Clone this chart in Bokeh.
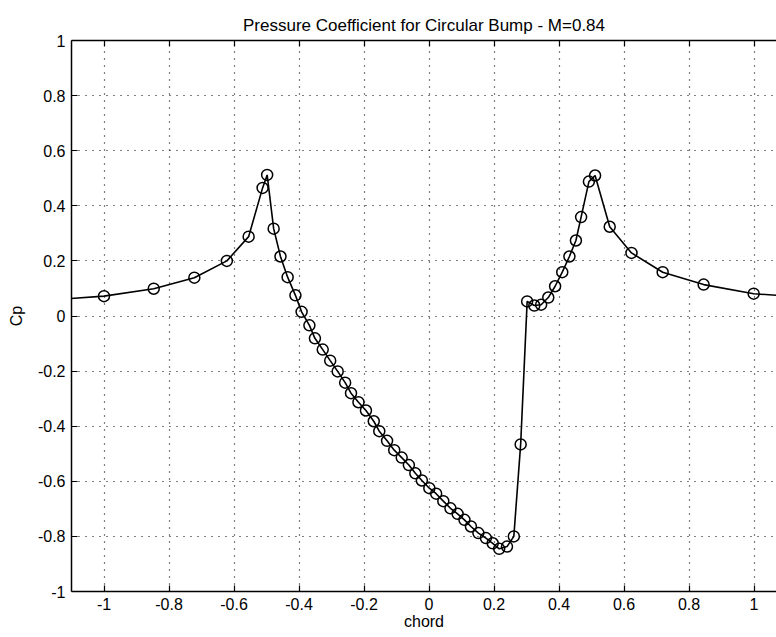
from bokeh.plotting import figure
from bokeh.models import Range1d, FixedTicker, NumeralTickFormatter, LinearAxis
from bokeh.embed import file_html
from bokeh.resources import INLINE

# Data
chord = [-1.20, -1.000, -0.847, -0.722, -0.622, -0.555, -0.512, -0.498, -0.478, -0.457,
         -0.435, -0.411, -0.392, -0.368, -0.351, -0.327, -0.304, -0.281, -0.258, -0.240,
         -0.217, -0.194, -0.170, -0.153, -0.129, -0.107, -0.084, -0.062, -0.042, -0.022,
         0.001, 0.022, 0.044, 0.066, 0.088, 0.109, 0.129, 0.152, 0.175, 0.196,
         0.216, 0.240, 0.261, 0.282, 0.302, 0.324, 0.345, 0.367, 0.388, 0.410,
         0.432, 0.452, 0.468, 0.492, 0.511, 0.556, 0.623, 0.719, 0.845, 0.999, 1.15]
cp = [0.055, 0.072, 0.099, 0.139, 0.200, 0.288, 0.465, 0.512, 0.317, 0.216,
      0.141, 0.075, 0.015, -0.034, -0.081, -0.122, -0.162, -0.201, -0.242, -0.280,
      -0.313, -0.343, -0.382, -0.418, -0.453, -0.487, -0.514, -0.541, -0.571, -0.597,
      -0.625, -0.645, -0.672, -0.698, -0.718, -0.740, -0.764, -0.788, -0.806, -0.825,
      -0.845, -0.837, -0.800, -0.466, 0.053, 0.038, 0.041, 0.067, 0.108, 0.159,
      0.216, 0.274, 0.359, 0.488, 0.510, 0.324, 0.229, 0.159, 0.114, 0.081, 0.068]

x_ticks = [-1, -0.8, -0.6, -0.4, -0.2, 0, 0.2, 0.4, 0.6, 0.8, 1]
y_ticks = [-1, -0.8, -0.6, -0.4, -0.2, 0, 0.2, 0.4, 0.6, 0.8, 1]

FONT = "Liberation Sans"

p = figure(width=776, height=637, output_backend="svg", toolbar_location=None,
           x_range=Range1d(-1.1, 1.0692), y_range=Range1d(-1, 1),
           x_axis_location=None, y_axis_location=None,
           min_border_left=71, min_border_right=0, min_border_top=40, min_border_bottom=46)
p.outline_line_color = None
p.background_fill_color = "white"
p.border_fill_color = "white"

p.title.text = "Pressure Coefficient for Circular Bump - M=0.84"
p.title.align = "center"
p.title.text_font = FONT
p.title.text_font_size = "17px"
p.title.text_font_style = "normal"
p.title.text_color = "black"
p.title.standoff = 12

def style_axis(ax, labels=True):
    ax.axis_line_color = "black"
    ax.axis_line_width = 1.5
    ax.major_tick_in = 6
    ax.major_tick_out = 0
    ax.major_tick_line_color = "black"
    ax.major_tick_line_width = 1.2
    ax.minor_tick_line_color = None
    ax.major_label_text_font = FONT
    ax.major_label_text_font_size = "16px"
    ax.major_label_text_color = "black"
    ax.axis_label_text_font = FONT
    ax.axis_label_text_font_size = "16px"
    ax.axis_label_text_font_style = "normal"
    ax.axis_label_text_color = "black"
    ax.formatter = NumeralTickFormatter(format="0.[0]")
    if not labels:
        ax.major_label_text_font_size = "0px"
        ax.major_label_text_color = None

xb = LinearAxis(axis_label="chord", ticker=FixedTicker(ticks=x_ticks))
style_axis(xb)
xb.major_label_standoff = 6
xb.axis_label_standoff = 0
p.add_layout(xb, "below")

yl = LinearAxis(axis_label="Cp", ticker=FixedTicker(ticks=y_ticks))
style_axis(yl)
yl.major_label_standoff = 6
yl.axis_label_standoff = 10
p.add_layout(yl, "left")

xt = LinearAxis(ticker=FixedTicker(ticks=x_ticks))
style_axis(xt, labels=False)
xt.major_label_standoff = 0
p.add_layout(xt, "above")

p.xgrid.ticker = FixedTicker(ticks=x_ticks)
p.ygrid.ticker = FixedTicker(ticks=y_ticks)
for g in (p.xgrid, p.ygrid):
    g.grid_line_color = "black"
    g.grid_line_dash = "1 6"
    g.grid_line_width = 1.2

p.line(chord, cp, line_color="black", line_width=1.6)
p.scatter(chord, cp, marker="circle", size=11, fill_color=None,
          line_color="black", line_width=1.5)

open("out.html", "w").write(file_html(p, INLINE))
